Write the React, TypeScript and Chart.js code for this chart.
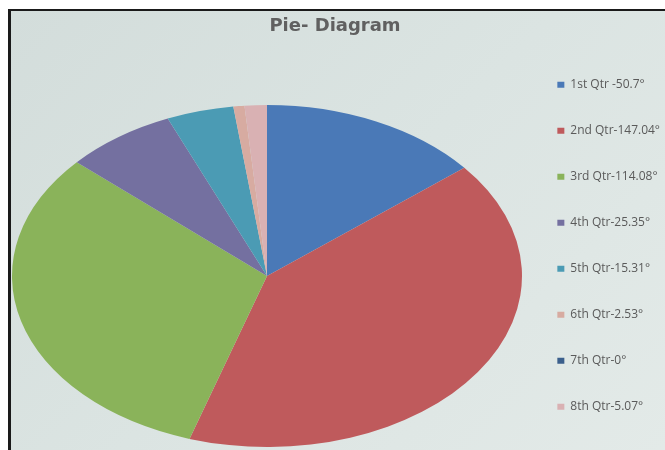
import { useEffect, useRef } from "react";
import { Chart, registerables } from "chart.js";

Chart.register(...registerables);

// ---- data ----
const labels = [
  "1st Qtr -50.7°",
  "2nd Qtr-147.04°",
  "3rd Qtr-114.08°",
  "4th Qtr-25.35°",
  "5th Qtr-15.31°",
  "6th Qtr-2.53°",
  "7th Qtr-0°",
  "8th Qtr-5.07°",
];
const values = [50.7, 147.04, 114.08, 25.35, 15.31, 2.53, 0, 5.07];
const colors = [
  "#4a79b7",
  "#bf5a5c",
  "#8ab35a",
  "#7470a0",
  "#4b9bb4",
  "#d7aba1",
  "#3b5f8c",
  "#d9b1b3",
];
const titleText = "Pie- Diagram";

// ---- photo perspective (pie seen as ellipse) ----
const ELLIPSE_CX = 267;
const ELLIPSE_CY = 276;
const ELLIPSE_RX = 255;
const ELLIPSE_RY = 171;

const ellipsePlugin = {
  id: "ellipsePerspective",
  beforeDatasetsDraw(chart: any) {
    const arc = chart.getDatasetMeta(0).data[0];
    if (!arc) return;
    const { x, y, outerRadius } = arc.getProps(["x", "y", "outerRadius"], true);
    const ctx = chart.ctx;
    ctx.save();
    ctx.translate(ELLIPSE_CX, ELLIPSE_CY);
    ctx.scale(ELLIPSE_RX / outerRadius, ELLIPSE_RY / outerRadius);
    ctx.translate(-x, -y);
  },
  afterDatasetsDraw(chart: any) {
    chart.ctx.restore();
  },
};

export default function App() {
  const ref = useRef<HTMLCanvasElement | null>(null);

  useEffect(() => {
    if (!ref.current) return;
    const chart = new Chart(ref.current, {
      type: "pie",
      data: {
        labels,
        datasets: [
          {
            data: values,
            backgroundColor: colors,
            borderWidth: 0,
            clip: false as any,
          },
        ],
      },
      options: {
        responsive: false,
        animation: false,
        layout: { padding: { left: 0, right: -5, top: 0, bottom: 0 } },
        plugins: {
          title: {
            display: true,
            text: titleText,
            color: "#606060",
            font: { family: "'DejaVu Sans', sans-serif", size: 18, weight: "bold" },
            padding: { top: 16, bottom: 4 },
          },
          legend: {
            display: true,
            position: "right",
            fullSize: false,
            align: "center",
            labels: {
              boxWidth: 7,
              boxHeight: 6,
              padding: 34,
              color: "#5a5a5a",
              font: { family: "'Open Sans', sans-serif", size: 12 },
            },
          },
          tooltip: { enabled: false },
        },
      },
      plugins: [ellipsePlugin],
    });
    return () => chart.destroy();
  }, []);

  return (
    <div
      style={{
        position: "absolute",
        left: 0,
        top: 0,
        width: 665,
        height: 450,
        background: "#ffffff",
        overflow: "hidden",
      }}
    >
      <div
        style={{
          position: "absolute",
          left: 8,
          top: 9,
          right: 0,
          bottom: 0,
          background: "linear-gradient(135deg, #d3dddb 0%, #dbe4e2 50%, #e3eae8 100%)",
          borderLeft: "3px solid #1a1a1a",
          borderTop: "2px solid #1a1a1a",
        }}
      />
      <canvas
        ref={ref}
        width={665}
        height={450}
        style={{ position: "absolute", left: 0, top: 0, display: "block" }}
      />
    </div>
  );
}
